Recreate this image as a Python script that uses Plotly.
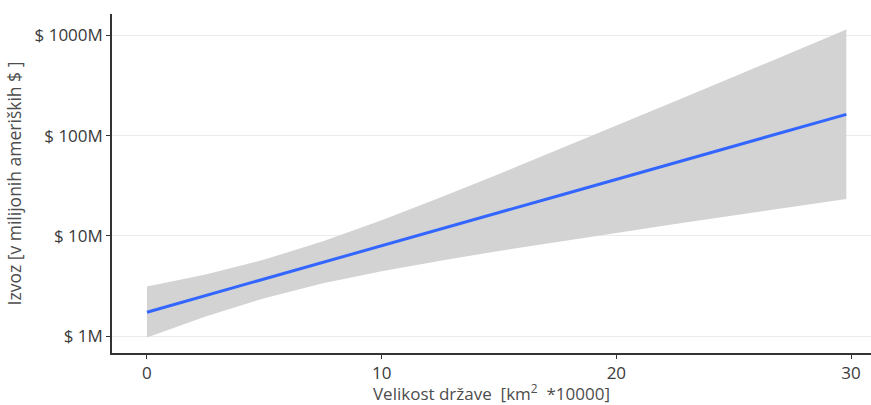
import plotly.graph_objects as go

# x positions (country size, km^2 * 10000)
x_vals = [0, 2.5, 5, 7.5, 10, 12.5, 15, 17.5, 20, 22.5, 25, 27.5, 29.8]
# fitted export (million USD)
fit_vals = [1.73, 2.54, 3.72, 5.45, 7.97, 11.7, 17.1, 25.0, 36.6, 53.7, 78.5, 115, 163]
# confidence band
upper_vals = [3.12, 4.11, 5.80, 8.81, 14.3, 24.1, 41.4, 71.8, 126, 220, 386, 678, 1145]
lower_vals = [0.97, 1.57, 2.39, 3.36, 4.44, 5.65, 7.06, 8.73, 10.7, 13.1, 16.0, 19.5, 23.3]

y_tickvals = [1, 10, 100, 1000]
y_ticktext = ["$ 1M", "$ 10M", "$ 100M", "$ 1000M"]
x_tickvals = [0, 10, 20, 30]

fig = go.Figure()
fig.add_trace(go.Scatter(
    x=x_vals + x_vals[::-1],
    y=upper_vals + lower_vals[::-1],
    fill="toself", fillcolor="#d3d3d3", line=dict(width=0),
    mode="lines", hoverinfo="skip", showlegend=False))
fig.add_trace(go.Scatter(
    x=x_vals, y=fit_vals, mode="lines",
    line=dict(color="#3366FF", width=3), showlegend=False))

font_family = "Open Sans, DejaVu Sans, sans-serif"
fig.update_layout(
    width=871, height=405,
    margin=dict(l=112, r=0, t=14, b=52),
    plot_bgcolor="white", paper_bgcolor="white",
    font=dict(family=font_family, size=13, color="#4d4d4d"),
    xaxis=dict(
        range=[-1.49, 30.85], tickvals=x_tickvals,
        showgrid=False, zeroline=False,
        showline=True, linecolor="#333333", linewidth=1.5,
        ticks="outside", ticklen=4, tickcolor="#333333", tickwidth=1.2,
        tickfont=dict(size=17, color="#3a3a3a"),
        title=dict(text="Velikost države  [km<sup>2</sup>  *10000]",
                   font=dict(size=17, color="#4d4d4d"), standoff=7),
        automargin=False,
    ),
    yaxis=dict(
        type="log", range=[-0.169, 3.213],
        tickvals=y_tickvals, ticktext=y_ticktext,
        showgrid=True, gridcolor="#ebebeb", gridwidth=1.2,
        zeroline=False,
        showline=True, linecolor="#333333", linewidth=1.5,
        ticks="outside", ticklen=4, tickcolor="#333333", tickwidth=1.2,
        tickfont=dict(size=17, color="#3a3a3a"),
        title=dict(text="Izvoz [v milijonih ameriških $ ]",
                   font=dict(size=17.5, color="#4d4d4d"), standoff=8),
        automargin=False,
    ),
)

fig.write_html("out.html")
